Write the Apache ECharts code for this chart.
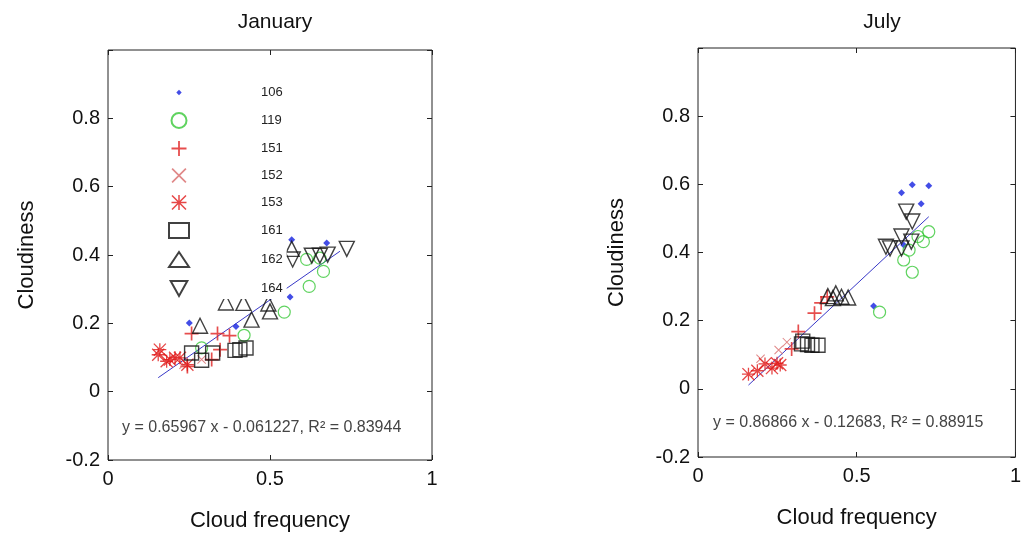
<!DOCTYPE html>
<html><head><meta charset="utf-8">
<script src="https://cdn.jsdelivr.net/npm/echarts@6/dist/echarts.min.js"></script>
<style>html,body{margin:0;padding:0;background:#fff}#c{width:1024px;height:537px}</style>
</head><body><div id="c"></div>
<script>
// ---- data ----
const stations = ['106','119','151','152','153','161','162','164'];
const xTickLabels = ['0','0.5','1'];
const yTickLabels = ['-0.2','0','0.2','0.4','0.6','0.8'];
const titles = ['January','July'];
const equations = ['y = 0.65967 x - 0.061227, R\u00b2 = 0.83944','y = 0.86866 x - 0.12683, R\u00b2 = 0.88915'];

const jan106 = [[0.567,0.445],[0.675,0.435],[0.562,0.277],[0.251,0.201],[0.395,0.191]];
const jan119 = [[0.613,0.387],[0.654,0.391],[0.665,0.352],[0.621,0.308],[0.544,0.233],[0.420,0.165],[0.289,0.128]];
const jan151 = [[0.258,0.170],[0.338,0.170],[0.375,0.164],[0.346,0.123],[0.320,0.094],[0.245,0.074]];
const jan152 = [[0.289,0.094],[0.233,0.079]];
const jan153 = [[0.160,0.123],[0.155,0.108],[0.181,0.089],[0.191,0.094],[0.207,0.099],[0.222,0.099],[0.245,0.079]];
const jan161 = [[0.258,0.113],[0.289,0.092],[0.323,0.113],[0.392,0.121],[0.407,0.123],[0.426,0.128]];
const jan162 = [[0.284,0.193],[0.364,0.261],[0.418,0.260],[0.443,0.211],[0.495,0.258],[0.500,0.235],[0.567,0.418]];
const jan164 = [[0.570,0.387],[0.629,0.398],[0.654,0.398],[0.678,0.401],[0.737,0.418]];
const janFit = [[0.155,0.041],[0.716,0.411]];

const jul106 = [[0.641,0.575],[0.675,0.599],[0.727,0.596],[0.703,0.543],[0.553,0.243],[0.648,0.422]];
const jul119 = [[0.727,0.461],[0.710,0.432],[0.693,0.447],[0.665,0.407],[0.648,0.378],[0.675,0.342],[0.572,0.225]];
const jul151 = [[0.295,0.117],[0.316,0.168],[0.367,0.222],[0.388,0.252],[0.407,0.270]];
const jul152 = [[0.197,0.088],[0.254,0.114],[0.280,0.137]];
const jul153 = [[0.159,0.043],[0.187,0.053],[0.211,0.073],[0.233,0.061],[0.249,0.075],[0.259,0.070]];
const jul161 = [[0.326,0.132],[0.345,0.130],[0.359,0.128],[0.378,0.128],[0.330,0.140]];
const jul162 = [[0.409,0.272],[0.425,0.266],[0.434,0.280],[0.452,0.270],[0.473,0.268]];
const jul164 = [[0.592,0.417],[0.605,0.412],[0.641,0.447],[0.641,0.412],[0.672,0.432],[0.656,0.520],[0.675,0.491]];
const julFit = [[0.159,0.011],[0.727,0.505]];

const janData = [jan106,jan119,jan151,jan152,jan153,jan161,jan162,jan164];
const julData = [jul106,jul119,jul151,jul152,jul153,jul161,jul162,jul164];

// ---- styles ----
const FONT = 'Liberation Sans, Arial, sans-serif';
const PLUS = 'path://M4.4,0H5.6V4.4H10V5.6H5.6V10H4.4V5.6H0V4.4H4.4Z';
const XMARK = 'path://M0,0.8L0.8,0L10,9.2L9.2,10Z M9.2,0L10,0.8L0.8,10L0,9.2Z';
const STAR = 'path://M4.5,0H5.5V10H4.5Z M0,4.5H10V5.5H0Z M0,0.7L0.7,0L10,9.3L9.3,10Z M9.3,0L10,0.7L0.7,10L0,9.3Z';
const DOWNTRI = 'path://M0,0H10L5,9Z';
const LEG_DIAMOND = 'path://M0,0M10,10M5,3.2L6.8,5L5,6.8L3.2,5Z';
const styles = [
  {symbol:'diamond', icon:LEG_DIAMOND, size:7, item:{color:'#1420e0'}},
  {symbol:'circle', size:12, item:{color:'rgba(0,0,0,0)', borderColor:'#38c838', borderWidth:1.2}},
  {symbol:PLUS, size:14, item:{color:'#e02020'}},
  {symbol:XMARK, size:9, item:{color:'#d86a6a'}},
  {symbol:STAR, size:13, item:{color:'#e01818'}},
  {symbol:'rect', size:14, item:{color:'rgba(0,0,0,0)', borderColor:'#111', borderWidth:1.4}},
  {symbol:'triangle', size:15, item:{color:'rgba(0,0,0,0)', borderColor:'#111', borderWidth:1.4}},
  {symbol:DOWNTRI, size:15, item:{color:'rgba(0,0,0,0)', borderColor:'#111', borderWidth:1.4}}
];

const grids = [
  {left:108, top:50, width:324, height:412, show:true, borderColor:'#222', borderWidth:1},
  {left:698, top:48, width:323, height:409, show:true, borderColor:'#222', borderWidth:1}
];

function fmtY(v){ return Math.abs(v-1)<1e-9 ? '' : String(+v.toFixed(1)); }
function fmtX(v){ return String(+v.toFixed(1)); }

const tickStyle = {inside:true, length:5, lineStyle:{color:'#222'}};
const xAxes = [], yAxes = [];
[0,1].forEach(g=>{
  xAxes.push({gridIndex:g, type:'value', min:0, max:1, interval:0.5, position:'bottom',
    name:'Cloud frequency', nameLocation:'middle', nameGap:50,
    nameTextStyle:{fontSize:22, color:'#111', fontFamily:FONT},
    axisLine:{show:false, onZero:false}, splitLine:{show:false}, axisTick:tickStyle,
    axisLabel:{fontSize:20, color:'#111', fontFamily:FONT, margin:9, formatter:fmtX}});
  xAxes.push({gridIndex:g, type:'value', min:0, max:1, interval:0.5, position:'top',
    axisLine:{show:false, onZero:false}, splitLine:{show:false}, axisLabel:{show:false},
    axisTick:tickStyle});
  yAxes.push({gridIndex:g, type:'value', min:-0.2, max:1, interval:0.2, position:'left',
    name:'Cloudiness', nameLocation:'middle', nameGap:70,
    nameTextStyle:{fontSize:22, color:'#111', fontFamily:FONT},
    axisLine:{show:false, onZero:false}, splitLine:{show:false}, axisTick:tickStyle,
    axisLabel:{fontSize:20, color:'#111', fontFamily:FONT, margin:8, formatter:fmtY}});
  yAxes.push({gridIndex:g, type:'value', min:-0.2, max:1, interval:0.2, position:'right',
    axisLine:{show:false, onZero:false}, splitLine:{show:false}, axisLabel:{show:false},
    axisTick:tickStyle});
});

const series = [];
[janData, julData].forEach((set, g)=>{
  const fit = g===0 ? janFit : julFit;
  series.push({type:'line', xAxisIndex:2*g, yAxisIndex:2*g, data:fit, symbol:'none',
    lineStyle:{color:'#3838c8', width:1}, silent:true, z:1});
  set.forEach((pts,i)=>{
    const s = styles[i];
    series.push({type:'scatter', name:stations[i], xAxisIndex:2*g, yAxisIndex:2*g,
      data:pts, symbol:s.symbol, symbolSize:s.size,
      itemStyle:s.item, z:2});
  });
});

const chart = echarts.init(document.getElementById('c'), null, {renderer:'canvas'});
chart.setOption({
  animation:false,
  backgroundColor:'#fff',
  grid:grids,
  xAxis:xAxes,
  yAxis:yAxes,
  title:[
    {text:titles[0], left:270, top:7, textAlign:'center', textStyle:{fontSize:21, fontWeight:'normal', color:'#111', fontFamily:FONT}},
    {text:titles[1], left:877, top:7, textAlign:'center', textStyle:{fontSize:21, fontWeight:'normal', color:'#111', fontFamily:FONT}}
  ],
  legend:{
    orient:'vertical', left:163, top:80, itemWidth:20, itemHeight:15, itemGap:12,
    backgroundColor:'#fff', padding:[5,4,2,5],
    data:stations.map((n,i)=>({name:n, icon:styles[i].icon || styles[i].symbol})),
    textStyle:{fontSize:13, lineHeight:14, color:'#222', fontFamily:FONT, padding:[0,0,0,67]},
    selectedMode:false
  },
  graphic:[
    {type:'text', left:122, top:420, style:{text:equations[0], fontSize:16, fill:'#444', fontFamily:FONT}},
    {type:'text', left:713, top:415, style:{text:equations[1], fontSize:16, fill:'#444', fontFamily:FONT}}
  ],
  series:series
});
</script>
</body></html>
